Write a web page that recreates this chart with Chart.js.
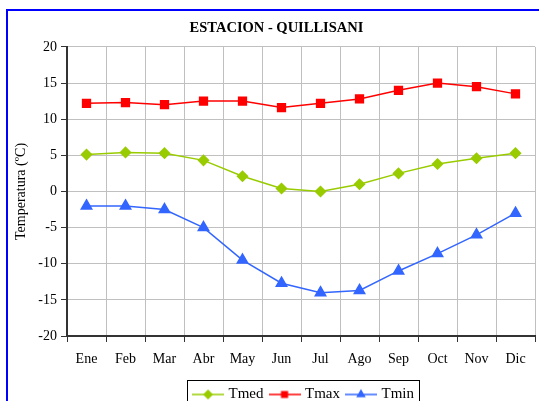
<!DOCTYPE html>
<html>
<head>
<meta charset="utf-8">
<script src="https://cdn.jsdelivr.net/npm/chart.js@4"></script>
<style>
  html, body { margin: 0; padding: 0; overflow: hidden; background: #fff; }
  #wrap { width: 539px; height: 412px; }
</style>
</head>
<body>
<div id="wrap"><canvas id="tempChart" width="539" height="412"></canvas></div>
<script>
// monthly values
const months = ['Ene', 'Feb', 'Mar', 'Abr', 'May', 'Jun', 'Jul', 'Ago', 'Sep', 'Oct', 'Nov', 'Dic'];
const tmed = [5.1, 5.4, 5.3, 4.3, 2.1, 0.4, 0.0, 1.0, 2.5, 3.8, 4.6, 5.3];
const tmax = [12.2, 12.3, 12.0, 12.5, 12.5, 11.6, 12.2, 12.8, 14.0, 15.0, 14.5, 13.5];
const tmin = [-2.0, -2.0, -2.5, -5.0, -9.5, -12.7, -14.0, -13.7, -11.0, -8.6, -6.0, -3.0];
const yMin = -20, yMax = 20, yStep = 5;

const FONT = "'Liberation Serif', 'Times New Roman', serif";

// small line+marker sample for the legend
function legendSymbol(color, style, radius) {
    var c = document.createElement('canvas');
    c.width = 32;
    c.height = 14;
    var g = c.getContext('2d');
    g.strokeStyle = color;
    g.lineWidth = 1.5;
    g.beginPath();
    g.moveTo(0, 7);
    g.lineTo(32, 7);
    g.stroke();
    g.fillStyle = color;
    g.strokeStyle = color;
    Chart.helpers.drawPoint(g, { pointStyle: style, radius: radius, rotation: 0, borderWidth: 1 }, 16, 7);
    return c;
}

const frame = {
    id: 'frame',
    afterLayout(chart) {
        // legend and title sit right of centre in the reference; hit boxes get rebuilt by the legend afterwards
        var lg = chart.legend;
        lg.left += 37;
        lg.right += 37;
        var tb = chart.titleBlock;
        tb.left += 9;
        tb.right += 9;
    },
    beforeDraw(chart) {
        var ctx = chart.ctx;
        ctx.save();
        ctx.fillStyle = '#fff';
        ctx.fillRect(0, 0, chart.width, chart.height);
        ctx.strokeStyle = '#0000ff';
        ctx.lineWidth = 2;
        ctx.beginPath();
        ctx.moveTo(7, chart.height);
        ctx.lineTo(7, 10);
        ctx.lineTo(chart.width, 10);
        ctx.stroke();
        ctx.restore();
    },
    afterDraw(chart) {
        var boxes = chart.legend.legendHitBoxes;
        if (!boxes || !boxes.length) return;
        var first = boxes[0], last = boxes[boxes.length - 1];
        var ctx = chart.ctx;
        ctx.save();
        ctx.strokeStyle = '#000';
        ctx.lineWidth = 1;
        var l = Math.round(first.left - 8) + 0.5;
        var r = Math.round(last.left + last.width + 5) + 0.5;
        var t = Math.round(first.top - 7) + 0.5;
        ctx.strokeRect(l, t, r - l, chart.height);
        ctx.restore();
    }
};

const ctx = document.getElementById('tempChart').getContext('2d');
const tempChart = new Chart(ctx, {
    type: 'line',
    data: {
        labels: months,
        datasets: [{
            label: 'Tmed',
            data: tmed,
            borderColor: '#99cc00',
            backgroundColor: '#99cc00',
            borderWidth: 1.5,
            pointStyle: 'rectRot',
            pointRadius: 5,
            pointHoverRadius: 5,
            tension: 0
        }, {
            label: 'Tmax',
            data: tmax,
            borderColor: '#ff0000',
            backgroundColor: '#ff0000',
            borderWidth: 1.5,
            pointStyle: 'rect',
            pointRadius: 5.5,
            pointHoverRadius: 5.5,
            tension: 0
        }, {
            label: 'Tmin',
            data: tmin,
            borderColor: '#3366ff',
            backgroundColor: '#3366ff',
            borderWidth: 1.5,
            pointStyle: 'triangle',
            pointRadius: 6,
            pointHoverRadius: 6,
            tension: 0
        }]
    },
    options: {
        responsive: false,
        devicePixelRatio: 1,
        animation: false,
        events: [],
        layout: { autoPadding: false, padding: { left: 0, right: 4, top: 0, bottom: 0 } },
        scales: {
            x: {
                offset: true,
                grid: {
                    offset: true,
                    color: '#c0c0c0',
                    tickColor: '#333',
                    tickLength: 6,
                    lineWidth: 1
                },
                border: { color: '#333', width: 2 },
                ticks: {
                    color: '#000',
                    padding: 9,
                    maxRotation: 0,
                    font: { family: FONT, size: 14 }
                },
                afterFit(scale) {
                    scale.height = 43;
                    scale.paddingLeft = 0;
                    scale.paddingRight = 0;
                }
            },
            y: {
                min: yMin,
                max: yMax,
                ticks: {
                    stepSize: yStep,
                    color: '#000',
                    padding: 4,
                    font: { family: FONT, size: 14 }
                },
                grid: {
                    color: '#c0c0c0',
                    tickColor: '#333',
                    tickLength: 6,
                    lineWidth: 1
                },
                border: { color: '#333', width: 2 },
                title: {
                    display: true,
                    text: 'Temperatura (ºC)',
                    color: '#000',
                    font: { family: FONT, size: 14 },
                    padding: { top: 13, bottom: 0 }
                },
                afterFit(scale) { scale.width = 67; }
            }
        },
        plugins: {
            title: {
                display: true,
                text: 'ESTACION - QUILLISANI',
                color: '#000',
                font: { family: FONT, size: 14.5, weight: 'bold' },
                padding: { top: 20, bottom: 9.5 }
            },
            legend: {
                display: true,
                position: 'bottom',
                labels: {
                    color: '#000',
                    font: { family: FONT, size: 15 },
                    usePointStyle: true,
                    pointStyleWidth: 26,
                    padding: 8,
                    generateLabels(chart) {
                        return chart.data.datasets.map(function(ds, i) {
                            return {
                                text: ds.label,
                                pointStyle: legendSymbol(ds.borderColor, ds.pointStyle, 4),
                                fillStyle: ds.backgroundColor,
                                strokeStyle: ds.borderColor,
                                lineWidth: 0,
                                hidden: false,
                                fontColor: '#000',
                                datasetIndex: i
                            };
                        });
                    }
                }
            },
            tooltip: { enabled: false }
        }
    },
    plugins: [frame]
});
</script>
</body>
</html>
